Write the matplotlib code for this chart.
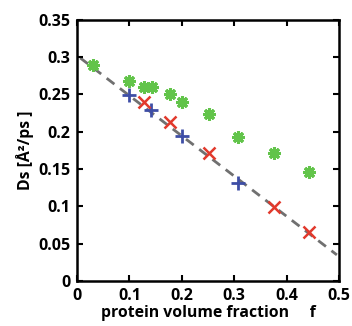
import matplotlib
matplotlib.use('Agg')
import matplotlib.pyplot as plt
import numpy as np

# green asterisks
f_green = [0.031, 0.100, 0.127, 0.143, 0.178, 0.200, 0.252, 0.307, 0.375, 0.443]
ds_green = [0.290, 0.268, 0.260, 0.260, 0.250, 0.240, 0.224, 0.193, 0.172, 0.146]

# blue plus
f_blue = [0.100, 0.141, 0.200, 0.307]
ds_blue = [0.249, 0.229, 0.194, 0.131]

# red crosses
f_red = [0.127, 0.178, 0.252, 0.375, 0.443]
ds_red = [0.240, 0.2135, 0.171, 0.0996, 0.066]

# dashed fit line end points
f_fit = [0.006, 0.496]
ds_fit = [0.299, 0.035]

xticks = [0, 0.1, 0.2, 0.3, 0.4, 0.5]
xticklabels = ['0', '0.1', '0.2', '0.3', '0.4', '0.5']
yticks = [0, 0.05, 0.1, 0.15, 0.2, 0.25, 0.3, 0.35]
yticklabels = ['0', '0.05', '0.1', '0.15', '0.2', '0.25', '0.3', '0.35']

plt.rcParams['font.family'] = ['Open Sans', 'DejaVu Sans']

fig = plt.figure(figsize=(3.52, 3.26), dpi=100)
ax = fig.add_axes([0.219, 0.138, 0.744, 0.801])

ax.plot(f_fit, ds_fit, linestyle=(0, (3.5, 2.5)), color='#707070', linewidth=2, zorder=1)
ax.plot(f_green, ds_green, linestyle='none', marker=(8, 2, 0), markersize=9,
        markeredgewidth=2.2, color='#62c44a', zorder=2)
ax.plot(f_blue, ds_blue, linestyle='none', marker='+', markersize=10,
        markeredgewidth=2, color='#3e4ea6', zorder=3)
ax.plot(f_red, ds_red, linestyle='none', marker='x', markersize=9,
        markeredgewidth=1.8, color='#e2392c', zorder=3)

ax.set_xlim(0, 0.5)
ax.set_ylim(0, 0.35)
ax.set_xticks(xticks)
ax.set_xticklabels(xticklabels, fontweight='bold', fontsize=11.5)
ax.set_yticks(yticks)
ax.set_yticklabels(yticklabels, fontweight='bold', fontsize=11.5)
ax.tick_params(direction='in', top=True, right=True, length=4, width=1.5, pad=5)
for s in ax.spines.values():
    s.set_linewidth(1.8)

ax.set_xlabel('protein volume fraction     f', fontweight='bold', fontsize=11.3, labelpad=1)
ax.set_ylabel('Ds [Å²/ps ]', fontweight='bold', fontsize=11.3, labelpad=3)

fig.savefig('out.png', dpi=100)
